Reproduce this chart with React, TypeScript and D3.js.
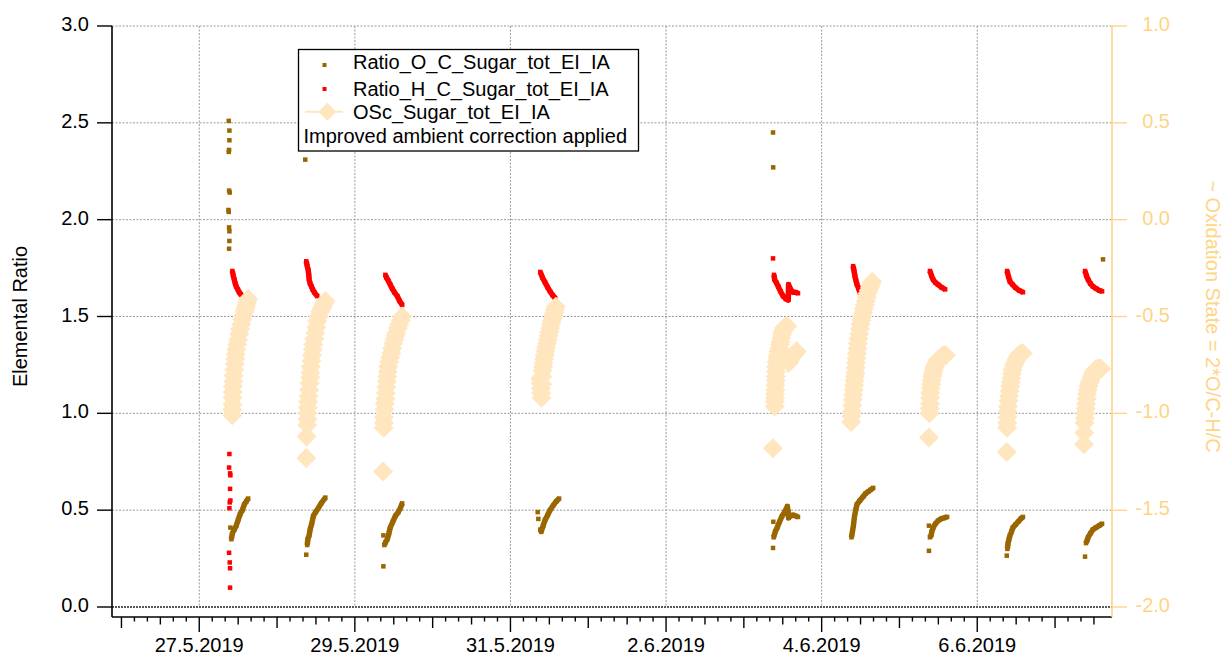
import React from 'react';
import * as d3 from 'd3';

type Pt = [number, number]; // [hour of day, value]
type Trail = { day: string; pts: Pt[] };
type Single = [string, number, number]; // [day, hour, value]

// labelled dates on the time axis
const dateLabels = ['27.5.2019', '29.5.2019', '31.5.2019', '2.6.2019', '4.6.2019', '6.6.2019'];
const leftTicks = [0, 0.5, 1, 1.5, 2, 2.5, 3];
const rightTicks = [-2, -1.5, -1, -0.5, 0, 0.5, 1];

// Ratio_O_C_Sugar_tot_EI_IA
const ocTrails: Trail[] = [
  { day: '2019-05-27', pts: [[9.9, 0.35], [10.2, 0.38], [10.8, 0.4], [11.4, 0.42], [12.0, 0.45], [12.6, 0.48], [13.3, 0.5], [13.9, 0.53], [14.5, 0.545], [15.1, 0.56]] },
  { day: '2019-05-28', pts: [[9.3, 0.32], [9.5, 0.35], [9.9, 0.37], [10.2, 0.4], [10.7, 0.43], [11.2, 0.47], [11.9, 0.49], [12.7, 0.51], [13.6, 0.535], [14.9, 0.565]] },
  { day: '2019-05-29', pts: [[9.1, 0.32], [9.5, 0.335], [10.0, 0.35], [10.5, 0.38], [10.9, 0.41], [11.7, 0.44], [12.5, 0.47], [13.4, 0.49], [14.0, 0.51], [14.6, 0.535]] },
  { day: '2019-05-31', pts: [[9.2, 0.4], [9.5, 0.39], [10.1, 0.42], [10.7, 0.45], [11.5, 0.475], [12.2, 0.5], [13.2, 0.525], [14.1, 0.545], [15.0, 0.56]] },
  { day: '2019-06-03', pts: [[9.2, 0.36], [9.7, 0.39], [10.3, 0.41], [11.0, 0.44], [11.8, 0.47], [12.6, 0.49], [13.4, 0.52], [13.7, 0.49], [13.8, 0.46], [14.4, 0.47], [15.2, 0.475], [16.0, 0.47], [16.7, 0.465]] },
  { day: '2019-06-04', pts: [[9.2, 0.36], [9.5, 0.39], [9.8, 0.42], [10.1, 0.465], [10.5, 0.5], [10.9, 0.53], [11.8, 0.55], [12.8, 0.57], [13.5, 0.585], [14.3, 0.595], [15.1, 0.605], [15.9, 0.615]] },
  { day: '2019-06-05', pts: [[9.4, 0.36], [9.75, 0.37], [10.0, 0.39], [10.4, 0.41], [11.1, 0.43], [11.9, 0.445], [12.8, 0.455], [13.8, 0.46], [14.7, 0.465]] },
  { day: '2019-06-06', pts: [[9.3, 0.3], [9.5, 0.33], [9.8, 0.35], [10.1, 0.37], [10.6, 0.39], [11.0, 0.41], [11.8, 0.425], [12.6, 0.44], [13.4, 0.455], [14.1, 0.465]] },
  { day: '2019-06-07', pts: [[9.55, 0.33], [9.9, 0.345], [10.2, 0.36], [10.9, 0.38], [11.7, 0.4], [12.6, 0.41], [13.6, 0.42], [14.5, 0.43]] },
];
const ocSingles: Single[] = [
  ['2019-05-27', 9.1, 2.51], ['2019-05-27', 9.3, 2.46], ['2019-05-27', 9.3, 2.41], ['2019-05-27', 9.2, 2.36],
  ['2019-05-27', 9.1, 2.35], ['2019-05-27', 9.2, 2.15], ['2019-05-27', 9.4, 2.14], ['2019-05-27', 9.0, 2.05],
  ['2019-05-27', 9.1, 2.04], ['2019-05-27', 9.2, 1.96], ['2019-05-27', 9.3, 1.94], ['2019-05-27', 9.3, 1.89],
  ['2019-05-27', 9.2, 1.85], ['2019-05-27', 9.6, 0.41],
  ['2019-05-28', 8.7, 2.31], ['2019-05-28', 9.0, 0.27],
  ['2019-05-29', 8.8, 0.37], ['2019-05-29', 8.8, 0.21],
  ['2019-05-31', 8.4, 0.49], ['2019-05-31', 8.6, 0.455],
  ['2019-06-03', 9.0, 2.45], ['2019-06-03', 9.05, 2.27], ['2019-06-03', 9.0, 0.305], ['2019-06-03', 9.1, 0.44],
  ['2019-06-05', 9.1, 0.42], ['2019-06-05', 9.1, 0.29],
  ['2019-06-06', 9.1, 0.265],
  ['2019-06-07', 14.8, 1.795], ['2019-06-07', 9.25, 0.26],
];

// Ratio_H_C_Sugar_tot_EI_IA
const hcTrails: Trail[] = [
  { day: '2019-05-27', pts: [[10.2, 1.735], [10.5, 1.71], [10.8, 1.69], [11.1, 1.67], [11.4, 1.655], [11.9, 1.64], [12.3, 1.625], [12.8, 1.615], [13.3, 1.605]] },
  { day: '2019-05-28', pts: [[9.0, 1.785], [9.3, 1.76], [9.6, 1.74], [9.8, 1.715], [9.9, 1.69], [10.2, 1.67], [10.6, 1.655], [11.0, 1.64], [11.5, 1.625], [12.4, 1.605]] },
  { day: '2019-05-29', pts: [[9.4, 1.715], [9.8, 1.7], [10.3, 1.685], [10.9, 1.665], [11.5, 1.645], [12.2, 1.625], [13.1, 1.605], [13.8, 1.58], [14.6, 1.56]] },
  { day: '2019-05-31', pts: [[9.2, 1.73], [9.9, 1.7], [10.7, 1.675], [11.5, 1.65], [12.2, 1.63], [13.0, 1.61], [13.8, 1.595]] },
  { day: '2019-06-03', pts: [[9.3, 1.715], [9.5, 1.69], [10.0, 1.675], [10.6, 1.655], [11.3, 1.63], [12.1, 1.605], [13.0, 1.59], [13.7, 1.585], [13.8, 1.665], [14.4, 1.64], [15.2, 1.625], [16.0, 1.625], [16.7, 1.62]] },
  { day: '2019-06-04', pts: [[9.7, 1.76], [10.0, 1.735], [10.3, 1.705], [10.6, 1.685], [10.9, 1.665], [11.4, 1.645], [11.8, 1.625]] },
  { day: '2019-06-05', pts: [[9.4, 1.735], [9.9, 1.71], [10.4, 1.69], [11.1, 1.675], [11.9, 1.665], [13.0, 1.65], [14.1, 1.64]] },
  { day: '2019-06-06', pts: [[9.2, 1.735], [9.65, 1.705], [10.1, 1.68], [10.9, 1.665], [11.7, 1.65], [12.9, 1.635], [14.1, 1.625]] },
  { day: '2019-06-07', pts: [[9.25, 1.735], [9.7, 1.71], [10.2, 1.69], [10.9, 1.67], [11.7, 1.655], [12.6, 1.645], [13.6, 1.635], [14.5, 1.63]] },
];
const hcSingles: Single[] = [
  ['2019-05-27', 9.3, 0.79], ['2019-05-27', 9.2, 0.72], ['2019-05-27', 9.5, 0.69], ['2019-05-27', 9.6, 0.68],
  ['2019-05-27', 9.5, 0.61], ['2019-05-27', 9.6, 0.55], ['2019-05-27', 9.4, 0.54], ['2019-05-27', 9.3, 0.51],
  ['2019-05-27', 9.2, 0.28], ['2019-05-27', 9.4, 0.23], ['2019-05-27', 9.5, 0.2], ['2019-05-27', 9.5, 0.1],
  ['2019-06-03', 9.0, 1.8],
];

// OSc_Sugar_tot_EI_IA (right axis)
const oscTrails: Trail[] = [
  { day: '2019-05-27', pts: [[10.2, -1.01], [10.22, -0.98], [10.25, -0.955], [10.28, -0.92], [10.3, -0.89], [10.4, -0.86], [10.5, -0.835], [10.65, -0.805], [10.8, -0.775], [10.95, -0.745], [11.1, -0.72], [11.25, -0.695], [11.4, -0.67], [11.7, -0.645], [12.0, -0.62], [12.3, -0.59], [12.6, -0.565], [12.95, -0.54], [13.3, -0.515], [13.6, -0.495], [13.9, -0.475], [14.2, -0.46], [14.5, -0.445], [14.8, -0.425], [15.1, -0.41]] },
  { day: '2019-05-28', pts: [[9.0, -1.23], [9.1, -1.12], [9.3, -1.06], [9.35, -1.03], [9.4, -1.0], [9.5, -0.97], [9.6, -0.94], [9.75, -0.91], [9.9, -0.88], [10.05, -0.845], [10.2, -0.815], [10.3, -0.79], [10.4, -0.76], [10.6, -0.73], [10.8, -0.7], [11.0, -0.67], [11.2, -0.645], [11.5, -0.615], [11.8, -0.585], [12.1, -0.555], [12.4, -0.525], [12.85, -0.5], [13.3, -0.475], [13.75, -0.46], [14.2, -0.445], [14.55, -0.43], [14.9, -0.42]] },
  { day: '2019-05-29', pts: [[8.7, -1.3], [8.9, -1.075], [8.95, -1.05], [9.0, -1.02], [9.1, -0.98], [9.25, -0.95], [9.4, -0.925], [9.55, -0.895], [9.7, -0.865], [9.85, -0.835], [10.0, -0.81], [10.15, -0.785], [10.3, -0.76], [10.6, -0.735], [10.9, -0.71], [11.2, -0.69], [11.5, -0.665], [11.85, -0.64], [12.2, -0.62], [12.5, -0.6], [12.8, -0.585], [13.25, -0.56], [13.7, -0.54], [14.15, -0.52], [14.6, -0.5]] },
  { day: '2019-05-31', pts: [[9.2, -0.82], [9.3, -0.845], [9.4, -0.87], [9.5, -0.895], [9.6, -0.92], [9.75, -0.85], [9.8, -0.81], [9.9, -0.78], [10.05, -0.76], [10.2, -0.74], [10.4, -0.72], [10.6, -0.7], [10.8, -0.68], [11.0, -0.66], [11.25, -0.64], [11.5, -0.62], [11.75, -0.6], [12.0, -0.58], [12.25, -0.56], [12.5, -0.54], [12.75, -0.525], [13.0, -0.51], [13.25, -0.495], [13.5, -0.48], [13.75, -0.465], [14.0, -0.45]] },
  { day: '2019-06-03', pts: [[8.95, -1.18], [9.5, -0.965], [9.55, -0.94], [9.6, -0.92], [9.65, -0.9], [9.7, -0.88], [9.75, -0.855], [9.8, -0.83], [9.85, -0.81], [9.9, -0.785], [10.0, -0.76], [10.1, -0.735], [10.3, -0.715], [10.5, -0.7], [10.7, -0.68], [10.9, -0.665], [11.1, -0.645], [11.3, -0.63], [11.55, -0.61], [11.8, -0.59], [12.1, -0.575], [12.4, -0.56], [12.7, -0.555], [13.0, -0.55], [13.4, -0.55], [13.8, -0.74], [14.1, -0.73], [14.4, -0.72], [14.8, -0.71], [15.2, -0.7], [15.5, -0.695], [15.8, -0.69], [16.05, -0.685], [16.3, -0.68]] },
  { day: '2019-06-04', pts: [[9.1, -1.045], [9.2, -1.015], [9.3, -0.99], [9.45, -0.96], [9.6, -0.93], [9.75, -0.905], [9.9, -0.88], [10.0, -0.855], [10.1, -0.83], [10.25, -0.81], [10.4, -0.79], [10.5, -0.765], [10.6, -0.74], [10.75, -0.715], [10.9, -0.69], [11.05, -0.665], [11.2, -0.64], [11.4, -0.615], [11.6, -0.59], [11.8, -0.565], [12.0, -0.54], [12.25, -0.52], [12.5, -0.5], [12.75, -0.48], [13.0, -0.46], [13.3, -0.44], [13.6, -0.42], [13.9, -0.4], [14.2, -0.38], [14.55, -0.365], [14.9, -0.35], [15.25, -0.335], [15.6, -0.32]] },
  { day: '2019-06-05', pts: [[9.1, -1.125], [9.25, -1.0], [9.3, -0.975], [9.4, -0.95], [9.45, -0.92], [9.5, -0.895], [9.65, -0.87], [9.8, -0.85], [9.95, -0.83], [10.1, -0.81], [10.3, -0.795], [10.5, -0.78], [10.75, -0.765], [11.0, -0.755], [11.3, -0.745], [11.6, -0.735], [11.9, -0.725], [12.2, -0.72], [12.55, -0.715], [12.9, -0.71], [13.25, -0.705], [13.6, -0.7], [13.95, -0.7], [14.3, -0.7]] },
  { day: '2019-06-06', pts: [[9.1, -1.2], [9.2, -1.075], [9.25, -1.05], [9.3, -1.02], [9.4, -0.99], [9.5, -0.965], [9.65, -0.935], [9.8, -0.91], [10.0, -0.885], [10.2, -0.86], [10.35, -0.84], [10.5, -0.82], [10.7, -0.795], [10.9, -0.775], [11.25, -0.755], [11.6, -0.74], [12.0, -0.725], [12.4, -0.71], [12.8, -0.7], [13.2, -0.695], [13.65, -0.69], [14.1, -0.69]] },
  { day: '2019-06-07', pts: [[8.9, -1.16], [9.0, -1.1], [9.1, -1.05], [9.2, -1.025], [9.3, -1.0], [9.45, -0.975], [9.6, -0.95], [9.75, -0.925], [9.9, -0.9], [10.1, -0.88], [10.3, -0.86], [10.6, -0.845], [10.9, -0.83], [11.25, -0.815], [11.6, -0.8], [12.0, -0.785], [12.4, -0.775], [12.85, -0.772], [13.3, -0.77], [13.75, -0.77], [14.2, -0.77]] },
];

const BROWN = '#996600';
const RED = '#ff0000';
const OSC = '#ffe6bf';
const ORANGE = '#ffd486';
const FONT = '"Liberation Sans", Arial, sans-serif';

const parseDay = d3.timeParse('%Y-%m-%d');
const parseLabel = d3.timeParse('%d.%m.%Y');
const at = (day: string, h: number) => d3.timeMinute.offset(parseDay(day)!, Math.round(h * 60));

const diamond = (cx: number, cy: number, r: number) =>
  `M${cx},${cy - r}L${cx + r},${cy}L${cx},${cy + r}L${cx - r},${cy}Z`;

export default function App() {
  const left = 112, right = 1112, top = 26, bottom = 607, axisY = 617;
  const x = d3.scaleTime()
    .domain([new Date(2019, 4, 25, 21, 5), new Date(2019, 5, 7, 17, 34)])
    .range([left, right]);
  const yL = d3.scaleLinear().domain([0, 3]).range([bottom, top]);
  const yR = d3.scaleLinear().domain([-2, 1]).range([bottom, top]);

  const majors = dateLabels.map(s => parseLabel(s)!);
  const majorSet = new Set(majors.map(d => +d));
  const ticks = d3.timeHour.every(4)!.range(x.domain()[0], x.domain()[1]).filter(t => x(t) <= right - 7);
  const tickLen = (t: Date) => {
    if (majorSet.has(+t)) return 15;
    if (t.getHours() === 0) return 11;
    if (t.getHours() === 12) return 7.5;
    return 4.5;
  };

  const trailLine = (day: string, y: (v: number) => number) =>
    d3.line<Pt>().x(p => x(at(day, p[0]))).y(p => y(p[1]));

  const sq = 4.5;

  return (
    <svg width={1227} height={657} style={{ position: 'absolute', left: 0, top: 0, background: '#fff' }}
      fontFamily={FONT} fontSize={20}>
      <rect x={0} y={0} width={1227} height={657} fill="#fff" />

      {/* grid */}
      {leftTicks.filter(v => v > 0).map(v => (
        <line key={'gh' + v} x1={left} x2={right} y1={yL(v)} y2={yL(v)} stroke="#9a9a9a" strokeDasharray="2,1.5" strokeWidth={1} />
      ))}
      {majors.map(d => (
        <line key={'gv' + +d} x1={x(d)} x2={x(d)} y1={top} y2={bottom} stroke="#9a9a9a" strokeDasharray="2,1.5" strokeWidth={1} />
      ))}
      <line x1={left} x2={right} y1={yL(0)} y2={yL(0)} stroke="#222" strokeDasharray="2,1" strokeWidth={1.6} />

      {/* O/C */}
      {ocTrails.map(t => (
        <path key={'ocl' + t.day} d={trailLine(t.day, yL)(t.pts) || ''} fill="none" stroke={BROWN} strokeWidth={5.5} strokeLinejoin="round" />
      ))}
      {ocTrails.flatMap(t => t.pts.map((p, i) => (
        <rect key={'ocp' + t.day + i} x={x(at(t.day, p[0])) - sq / 2} y={yL(p[1]) - sq / 2} width={sq} height={sq} fill={BROWN} />
      )))}
      {ocSingles.map((s, i) => (
        <rect key={'ocs' + i} x={x(at(s[0], s[1])) - sq / 2} y={yL(s[2]) - sq / 2} width={sq} height={sq} fill={BROWN} />
      ))}

      {/* H/C */}
      {hcTrails.map(t => (
        <path key={'hcl' + t.day} d={trailLine(t.day, yL)(t.pts) || ''} fill="none" stroke={RED} strokeWidth={5.5} strokeLinejoin="round" />
      ))}
      {hcTrails.flatMap(t => t.pts.map((p, i) => (
        <rect key={'hcp' + t.day + i} x={x(at(t.day, p[0])) - sq / 2} y={yL(p[1]) - sq / 2} width={sq} height={sq} fill={RED} />
      )))}
      {hcSingles.map((s, i) => (
        <rect key={'hcs' + i} x={x(at(s[0], s[1])) - sq / 2} y={yL(s[2]) - sq / 2} width={sq} height={sq} fill={RED} />
      ))}

      {/* OSc */}
      {oscTrails.flatMap(t => t.pts.map((p, i) => (
        <path key={'os' + t.day + i} d={diamond(x(at(t.day, p[0])), yR(p[1]), 10)} fill={OSC} />
      )))}

      {/* left axis */}
      <line x1={left} x2={left} y1={top} y2={axisY} stroke="#000" strokeWidth={1.6} />
      {leftTicks.map(v => (
        <g key={'lt' + v}>
          <line x1={left - 15} x2={left} y1={yL(v)} y2={yL(v)} stroke="#000" strokeWidth={1.4} />
          <text x={89} y={yL(v) + 5} textAnchor="end" fill="#000">{v.toFixed(1)}</text>
        </g>
      ))}
      <text transform={`translate(27,${(top + bottom) / 2}) rotate(-90)`} textAnchor="middle" fill="#000">Elemental Ratio</text>

      {/* bottom axis */}
      <line x1={left} x2={right} y1={axisY} y2={axisY} stroke="#000" strokeWidth={1.6} />
      {ticks.map(t => (
        <line key={'bt' + +t} x1={x(t)} x2={x(t)} y1={axisY} y2={axisY + tickLen(t)} stroke="#000" strokeWidth={1.4} />
      ))}
      {majors.map((d, i) => (
        <text key={'bl' + i} x={x(d)} y={652} textAnchor="middle" fill="#000">{dateLabels[i]}</text>
      ))}

      {/* right axis */}
      <line x1={right} x2={right} y1={top} y2={axisY} stroke={ORANGE} strokeWidth={1.6} />
      {rightTicks.map(v => (
        <g key={'rt' + v}>
          <line x1={right} x2={right + 15} y1={yR(v)} y2={yR(v)} stroke={ORANGE} strokeWidth={1.4} />
          <text x={1170} y={yR(v) + 5} textAnchor="end" fill={ORANGE}>{v.toFixed(1)}</text>
        </g>
      ))}
      <text transform={`translate(1206,${(top + bottom) / 2}) rotate(90)`} textAnchor="middle" fill={ORANGE}>~ Oxidation State = 2*O/C-H/C</text>

      {/* legend */}
      <g>
        <rect x={298.5} y={49.5} width={340} height={101.5} fill="#fff" stroke="#000" strokeWidth={1.3} />
        <rect x={322.5} y={63} width={4} height={4} fill={BROWN} />
        <text x={353} y={68.5} fill="#000">Ratio_O_C_Sugar_tot_EI_IA</text>
        <rect x={322.5} y={87} width={4} height={4} fill={RED} />
        <text x={353} y={96} fill="#000">Ratio_H_C_Sugar_tot_EI_IA</text>
        <line x1={305} x2={343} y1={111.7} y2={111.7} stroke={OSC} strokeWidth={2} />
        <path d={diamond(327.3, 111.7, 9)} fill={OSC} />
        <text x={353} y={119.3} fill="#000">OSc_Sugar_tot_EI_IA</text>
        <text x={303.5} y={142.7} fill="#000">Improved ambient correction applied</text>
      </g>
    </svg>
  );
}
